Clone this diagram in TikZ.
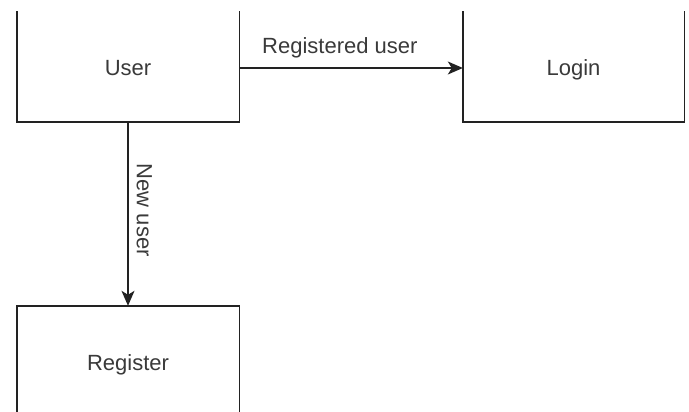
\documentclass[tikz,border=0pt]{standalone}
\usepackage{fontspec}
\setmainfont{Liberation Sans}
\usetikzlibrary{arrows.meta}
\definecolor{edge}{HTML}{222222}
\definecolor{txt}{HTML}{3A3A3A}
\tikzset{
  boxnode/.style={inner sep=0pt, text=txt, font=\fontsize{22}{26}\selectfont, text height=21pt, text depth=5pt},
  side/.style={draw=edge, line width=1.4pt},
  conn/.style={draw=edge, line width=1.3pt, -{Stealth[length=15pt, width=13pt, inset=4pt]}},
  lbl/.style={inner sep=0pt, text=txt, font=\fontsize{22}{26}\selectfont}
}
\begin{document}
\begin{tikzpicture}[x=1pt, y=-1pt]
\useasboundingbox (0,0) rectangle (689,412);
\fill[white] (0,0) rectangle (689,412);
\clip (0,12) rectangle (689,412);
\node[boxnode, minimum width=222pt, minimum height=108pt] (user) at (128,68) {User};
\node[boxnode, minimum width=221pt, minimum height=108pt] (login) at (573.5,68) {Login};
\node[boxnode, minimum width=222pt, minimum height=112pt] (reg) at (128,362) {Register};
\draw[side] ([yshift=6pt]user.north west) -- (user.south west) -- (user.south east) -- ([yshift=6pt]user.north east);
\draw[side] ([yshift=6pt]login.north west) -- (login.south west) -- (login.south east) -- ([yshift=6pt]login.north east);
\draw[side] ([yshift=-10pt]reg.south west) -- (reg.north west) -- (reg.north east) -- ([yshift=-10pt]reg.south east);
\draw[conn] (user.east) -- (login.west) node[lbl, pos=0.45, above=9.4pt] {Registered user};
\draw[conn] (user.south) -- (reg.north) node[lbl, pos=0.48, sloped, above=8pt] {New user};
\end{tikzpicture}
\end{document}
